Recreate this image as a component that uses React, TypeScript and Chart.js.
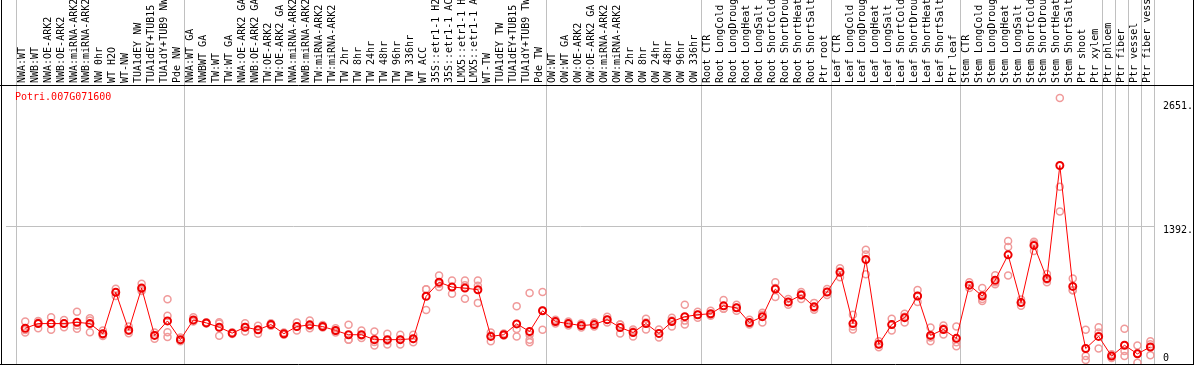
import React, { useEffect, useRef } from 'react';
import { Chart, registerables } from 'chart.js';

Chart.register(...registerables);

const GENE = 'Potri.007G071600';

const CATEGORIES = [
  'NWA:WT', 'NWB:WT', 'NWA:OE-ARK2', 'NWB:OE-ARK2', 'NWA:miRNA-ARK2', 'NWB:miRNA-ARK2', 'NW 0hr', 'WT H2O', 'WT-NW', 'TUA1dEY NW', 'TUA1dEY+TUB15', 'TUA1dY+TUB9 NW', 'Pde NW',
  'NWA:WT GA', 'NWBWT GA', 'TW:WT', 'TW:WT GA', 'NWA:OE-ARK2 GA', 'NWB:OE-ARK2 GA', 'TW:OE-ARK2', 'TW:OE-ARK2 GA', 'NWA:miRNA-ARK2', 'NWB:miRNA-ARK2', 'TW:miRNA-ARK2', 'TW:miRNA-ARK2',
  'TW 2hr', 'TW 8hr', 'TW 24hr', 'TW 48hr', 'TW 96hr', 'TW 336hr', 'WT ACC', '35S::etr1-1 H2O', '35S::etr1-1 ACC', 'LMX5::etr1-1 H2O', 'LMX5::etr1-1 ACC', 'WT-TW', 'TUA1dEY TW', 'TUA1dEY+TUB15', 'TUA1dY+TUB9 TW', 'Pde TW',
  'OW:WT', 'OW:WT GA', 'OW:OE-ARK2', 'OW:OE-ARK2 GA', 'OW:miRNA-ARK2', 'OW:miRNA-ARK2', 'OW 2hr', 'OW 8hr', 'OW 24hr', 'OW 48hr', 'OW 96hr', 'OW 336hr',
  'Root CTR', 'Root LongCold', 'Root LongDrought', 'Root LongHeat', 'Root LongSalt', 'Root ShortCold', 'Root ShortDrought', 'Root ShortHeat', 'Root ShortSalt', 'Ptr root',
  'Leaf CTR', 'Leaf LongCold', 'Leaf LongDrought', 'Leaf LongHeat', 'Leaf LongSalt', 'Leaf ShortCold', 'Leaf ShortDrought', 'Leaf ShortHeat', 'Leaf ShortSalt', 'Ptr leaf',
  'Stem CTR', 'Stem LongCold', 'Stem LongDrought', 'Stem LongHeat', 'Stem LongSalt', 'Stem ShortCold', 'Stem ShortDrought', 'Stem ShortHeat', 'Stem ShortSalt', 'Ptr shoot', 'Ptr xylem',
  'Ptr phloem', 'Ptr fiber', 'Ptr vessel', 'Ptr fiber vessel',
];

const MEAN = [
  363, 410, 410, 410, 423, 410, 307, 727, 343, 770, 290, 437, 247,
  447, 417, 373, 313, 373, 347, 400, 307, 380, 397, 380, 340, 297, 297, 247, 247, 247, 257, 687, 830, 780, 770, 753, 280, 297, 407, 330, 540,
  430, 410, 390, 400, 450, 370, 320, 410, 310, 430, 480, 500,
  510, 590, 570, 420, 480, 760, 630, 700, 580, 730,
  930, 410, 1060, 200, 400, 470, 690, 290, 350, 260,
  800, 690, 850, 1107, 623, 1203, 867, 2013, 787, 157, 280,
  80, 190, 103, 173,
];

const REP1 = [
  430, 437, 473, 447, 530, 463, 340, 763, 380, 813, 320, 657, 270,
  473, 423, 423, 323, 413, 387, 413, 320, 420, 440, 395, 363, 397, 340, 330, 307, 297, 297, 757, 897, 847, 847, 847, 320, 310, 587, 720, 730,
  450, 430, 410, 420, 480, 400, 350, 460, 350, 470, 600, 530,
  540, 650, 600, 450, 520, 830, 660, 730, 620, 760,
  970, 500, 1160, 230, 460, 510, 750, 370, 390, 380,
  830, 770, 900, 1247, 653, 1240, 913, 2697, 867, 347, 373,
  100, 357, 187, 230,
];

const REP2 = [
  320, 363, 347, 373, 357, 323, 297, 727, 313, 740, 257, 323, 230,
  430, 410, 287, 305, 330, 307, 387, 297, 340, 363, 370, 320, 247, 263, 187, 197, 197, 220, 547, 780, 713, 800, 620, 230, 290, 280, 297, 347,
  410, 390, 370, 380, 420, 310, 280, 350, 270, 380, 440, 470,
  490, 560, 540, 400, 420, 680, 600, 660, 550, 700,
  880, 350, 1110, 170, 340, 420, 630, 230, 300, 180,
  770, 660, 830, 1187, 590, 1147, 830, 1797, 747, 80, 320,
  60, 80, 13, 200,
];

const REP3 = [
  345, 420, 410, 410, 390, 440, 285, 690, 336, 757, 293, 273, 240,
  438, 418, 410, 311, 376, 347, 400, 304, 380, 388, 375, 337, 247, 288, 224, 237, 247, 254, 757, 813, 780, 663, 793, 290, 291, 354, 220, 543,
  430, 410, 390, 400, 450, 400, 330, 420, 310, 440, 400, 500,
  500, 560, 570, 410, 500, 770, 630, 710, 570, 730,
  940, 380, 910, 200, 400, 480, 690, 270, 360, 220,
  800, 640, 810, 897, 626, 1222, 858, 1547, 747, 40, 157,
  80, 133, 109, 90,
];

// extra replicate (only two samples have a fourth one)
const REP4_CATEGORY = ['TUA1dY+TUB9 NW', 'TUA1dY+TUB9 TW'];
const REP4_VALUE = [490, 247];

const Y_TICKS = [0, 1392, 2651];
const Y_TICK_LABELS = ['0', '1392.', '2651.'];
const GRID_VALUE = 1392;

// group separators (in category slots)
const GROUP_BOUNDARIES = [0, 13, 41, 53, 63, 73, 84, 85, 86, 87, 88];

const X_OFFSET = 0.68;
const X_MIN = -10.5 / 13;
const X_MAX = X_MIN + 1155 / 13;
const Y_MIN = 0;
const Y_MAX = 2830;

const FONT = 'DejaVu Sans Mono';

const framePlugin = {
  id: 'frame',
  beforeDatasetsDraw(chart: any) {
    const { ctx, chartArea, scales } = chart;
    const xs = scales.x;
    ctx.save();
    ctx.strokeStyle = '#c0c0c0';
    ctx.lineWidth = 1;
    GROUP_BOUNDARIES.forEach((b) => {
      const px = Math.floor(xs.getPixelForValue(b)) + 0.5;
      ctx.beginPath();
      ctx.moveTo(px, 0);
      ctx.lineTo(px, chartArea.bottom);
      ctx.stroke();
    });
    ctx.restore();
  },
  afterDraw(chart: any) {
    const { ctx, chartArea, scales, width } = chart;
    const ys = scales.y;
    ctx.save();
    ctx.strokeStyle = '#000';
    ctx.lineWidth = 1;
    ctx.beginPath();
    ctx.moveTo(1.5, 0);
    ctx.lineTo(1.5, chartArea.bottom + 1);
    ctx.moveTo(width - 0.5, 0);
    ctx.lineTo(width - 0.5, chartArea.bottom + 1);
    ctx.moveTo(0, chartArea.top + 0.5);
    ctx.lineTo(width, chartArea.top + 0.5);
    ctx.moveTo(0, chartArea.bottom + 0.5);
    ctx.lineTo(width, chartArea.bottom + 0.5);
    ctx.stroke();

    ctx.font = `10px ${FONT}`;
    ctx.fillStyle = '#ff0000';
    ctx.textAlign = 'left';
    ctx.textBaseline = 'middle';
    ctx.fillText(GENE, chartArea.left + 9, chartArea.top + 12);

    ctx.fillStyle = '#000';
    Y_TICKS.forEach((v, i) => {
      const py = Math.min(ys.getPixelForValue(v) + 4, chartArea.bottom - 6);
      ctx.fillText(Y_TICK_LABELS[i], chartArea.right + 8, py);
    });
    ctx.restore();
  },
};

export default function App() {
  const ref = useRef<HTMLCanvasElement | null>(null);

  useEffect(() => {
    if (!ref.current) return;
    const pt = (v: number, i: number) => ({ x: i + X_OFFSET, y: v });
    const rep4 = REP4_CATEGORY.map((c, k) => pt(REP4_VALUE[k], CATEGORIES.indexOf(c)));
    const repStyle = {
      type: 'scatter' as const,
      showLine: false,
      pointRadius: 3.5,
      pointBorderWidth: 1.5,
      pointBackgroundColor: 'rgba(0,0,0,0)',
      pointBorderColor: '#f09a9a',
      borderColor: '#f09a9a',
    };
    const chart = new Chart(ref.current, {
      type: 'line',
      data: {
        datasets: [
          {
            type: 'line',
            label: 'mean',
            data: MEAN.map(pt),
            borderColor: '#ff0000',
            borderWidth: 1,
            pointRadius: 3.5,
            pointBorderWidth: 2,
            pointBackgroundColor: 'rgba(0,0,0,0)',
            pointBorderColor: '#ee0000',
            tension: 0,
          } as any,
          { ...repStyle, label: 'r1', data: REP1.map(pt) },
          { ...repStyle, label: 'r2', data: REP2.map(pt) },
          { ...repStyle, label: 'r3', data: REP3.map(pt) },
          { ...repStyle, label: 'r4', data: rep4 },
        ],
      },
      options: {
        animation: false,
        responsive: false,
        devicePixelRatio: 1,
        layout: { padding: { left: 0, right: 0, top: 0, bottom: 2 } },
        plugins: { legend: { display: false }, tooltip: { enabled: false }, title: { display: false } },
        scales: {
          x: {
            type: 'linear',
            position: 'top',
            min: X_MIN,
            max: X_MAX,
            grid: { display: false, drawTicks: false },
            border: { display: false },
            ticks: {
              autoSkip: false,
              maxRotation: 90,
              minRotation: 90,
              padding: 2,
              labelOffset: 9,
              color: '#000',
              font: { family: FONT, size: 10 },
              callback: (_v: any, i: number) => CATEGORIES[i],
            },
            afterBuildTicks: (s: any) => {
              s.ticks = CATEGORIES.map((_, i) => ({ value: i + X_OFFSET }));
            },
            afterFit: (s: any) => {
              s.height = 85;
            },
          },
          y: {
            type: 'linear',
            position: 'right',
            min: Y_MIN,
            max: Y_MAX,
            grid: {
              drawTicks: false,
              color: (c: any) => (c.tick && c.tick.value === GRID_VALUE ? '#c0c0c0' : 'rgba(0,0,0,0)'),
            },
            border: { display: false },
            ticks: { display: false },
            afterBuildTicks: (s: any) => {
              s.ticks = Y_TICKS.map((v) => ({ value: v }));
            },
            afterFit: (s: any) => {
              s.width = 39;
            },
          },
        },
      } as any,
      plugins: [framePlugin],
    });
    return () => chart.destroy();
  }, []);

  return (
    <div style={{ position: 'fixed', left: 0, top: 0, width: 1194, height: 370, background: '#fff' }}>
      <canvas ref={ref} width={1194} height={370} />
    </div>
  );
}
